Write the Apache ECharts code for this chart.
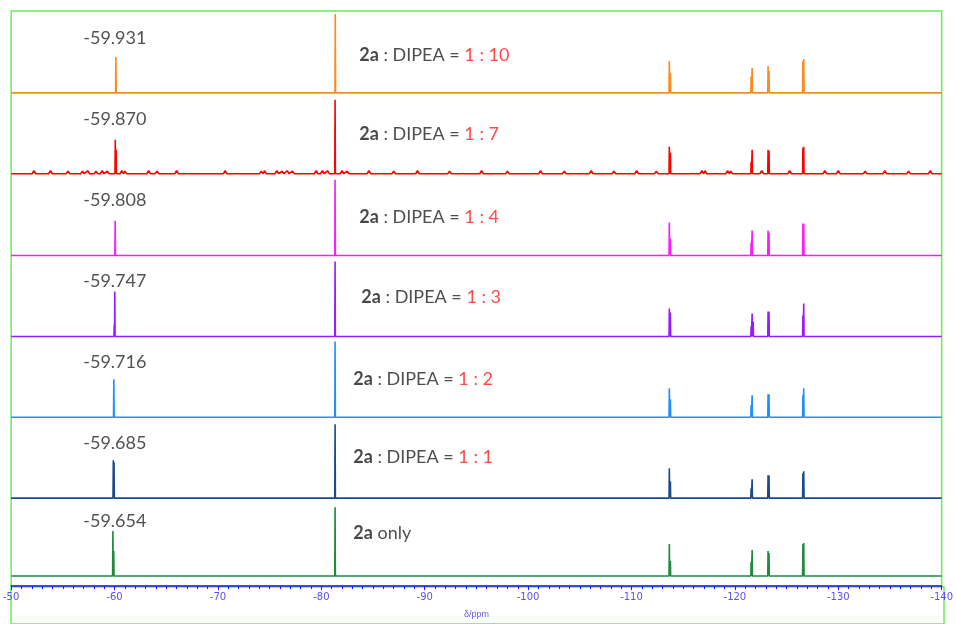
<!DOCTYPE html>
<html><head><meta charset="utf-8">
<script src="https://cdn.jsdelivr.net/npm/echarts@6/dist/echarts.min.js"></script>
<style>html,body{margin:0;padding:0;background:#fff}#c{width:956px;height:624px}</style>
</head><body><div id="c"></div><script>
// ---- data ----
const xMin = -140, xMax = -50, xStep = 10;
const shiftLabels = ['-59.931','-59.870','-59.808','-59.747','-59.716','-59.685','-59.654'];
const ratioLabels = ['1 : 10','1 : 7','1 : 4','1 : 3','1 : 2','1 : 1', null];
// peaks: [ppm, intensity]
const peaks_1_10 = [[-60.13,36],[-81.35,79],[-113.66,32],[-113.76,20],[-121.57,16],[-121.67,25],[-123.21,27],[-123.30,22],[-126.58,32],[-126.66,34]];
const peaks_1_7  = [[-60.07,34],[-60.15,24],[-81.33,74],[-113.66,27],[-113.76,21],[-121.57,12],[-121.67,24],[-123.21,24],[-123.30,23],[-126.58,26],[-126.66,27]];
const noise_1_7  = [[-52.2,3],[-53.8,3],[-55.5,2.5],[-56.9,2.5],[-57.4,3],[-58.2,2.5],[-58.8,3],[-59.3,2.5],[-60.7,3],[-61.0,2.5],[-63.3,3],[-64.1,2.5],[-66.0,3],[-70.7,3],[-74.2,2.5],[-74.5,3],[-75.7,3],[-76.2,2.5],[-76.7,3],[-77.2,2.5],[-79.5,3],[-80.1,3],[-80.6,3],[-82.0,3],[-82.5,2.5],[-84.6,3],[-87.0,2.5],[-89.3,3],[-92.4,2.5],[-95.5,3],[-98.0,2.5],[-101.2,3],[-103.5,2.5],[-106.1,3],[-108.3,2.5],[-110.5,3],[-112.4,2.5],[-116.8,3],[-117.1,3],[-119.3,3],[-119.6,2.5],[-122.6,3],[-125.3,3],[-128.7,3],[-130.0,3],[-132.6,2.5],[-134.5,3],[-136.8,2.5],[-138.9,3]];
const peaks_1_4  = [[-60.06,35],[-81.33,76],[-113.66,33],[-113.76,17],[-121.57,13],[-121.67,25],[-123.21,25],[-123.30,23],[-126.58,32],[-126.66,32]];
const peaks_1_3  = [[-59.97,12],[-60.02,45],[-81.33,75],[-113.66,28],[-113.76,24],[-121.57,10],[-121.67,23],[-121.77,15],[-123.21,25],[-123.30,25],[-126.58,21],[-126.66,33]];
const peaks_1_2  = [[-59.93,38],[-81.33,76],[-113.66,29],[-113.76,18],[-121.57,12],[-121.67,22],[-123.21,23],[-123.30,23],[-126.58,22],[-126.66,29]];
const peaks_1_1  = [[-59.88,38],[-59.95,36],[-81.33,74],[-113.66,30],[-113.76,17],[-121.57,10],[-121.67,19],[-123.21,23],[-123.30,23],[-126.58,25],[-126.66,27]];
const peaks_only = [[-59.84,45],[-59.92,25],[-81.33,69],[-113.66,32],[-113.76,15],[-121.57,14],[-121.67,26],[-123.21,25],[-123.30,23],[-126.58,32],[-126.66,33]];

// ---- layout / style ----
const baseOffsets = [494, 413, 331, 250, 169, 88, 10];
const colors = ['#ff8a1c','#ff0000','#ff19ff','#9a1aff','#1f8fff','#1b4a8c','#1f8a3e'];
const allPeaks = [peaks_1_10, peaks_1_7, peaks_1_4, peaks_1_3, peaks_1_2, peaks_1_1, peaks_only];
const allNoise = [[], noise_1_7, [], [], [], [], []];
const shiftLabelPos = [-60.03, 55];
const ratioLabelPos = [[-83.67, 38],[-83.67, 40],[-83.67, 38],[-83.87, 39],[-83.09, 38],[-83.09, 41],[-83.09, 43]];
const halfW = 0.03, noiseHalfW = 0.18;

function buildLine(peaks, noise, off) {
  const ps = peaks.map(p => [p[0], p[1], halfW]).concat(noise.map(p => [p[0], p[1], noiseHalfW]))
    .sort((a,b)=>b[0]-a[0]);
  const d = [[xMax, off]];
  ps.forEach(([p,h,w]) => { d.push([p+w, off]); d.push([p, off+h]); d.push([p-w, off]); });
  d.push([xMin, off]);
  return d;
}

const series = allPeaks.map((pk,i) => ({
  type:'line', data: buildLine(pk, allNoise[i], baseOffsets[i]), showSymbol:false, symbol:'none',
  lineStyle:{color:colors[i], width:1.6}, animation:false, z: 3
}));

const fontFam = 'Lato, "Open Sans", sans-serif';
const fs = 18;
const textData = [];
shiftLabels.forEach((s,i) => textData.push({value:[shiftLabelPos[0], baseOffsets[i]+shiftLabelPos[1]], label:{show:true, position:'inside', formatter:s, color:'#262626', fontSize:fs, fontFamily:fontFam}}));
ratioLabels.forEach((r,i) => textData.push({value:[ratioLabelPos[i][0], baseOffsets[i]+ratioLabelPos[i][1]],
  label:{show:true, position:'right', distance:0,
    formatter: r ? '{b|2a} : DIPEA = {r|' + r + '}' : '{b|2a} only',
    color:'#222', fontSize:fs, fontFamily:fontFam,
    rich:{b:{fontWeight:'bold', fontSize:fs, color:'#1a1a1a', fontFamily:fontFam}, r:{color:'#ff1a1a', fontSize:fs, fontFamily:fontFam}}}}));
series.push({type:'scatter', data:textData, symbolSize:0, silent:true, animation:false, z:5});

const frameColor = '#66ee55';
const chart = echarts.init(document.getElementById('c'), null, {renderer:'canvas'});
chart.setOption({
  backgroundColor:'#fff',
  animation:false,
  grid:[
    {left:11, right:12, top:11, bottom:37, show:true, borderColor:frameColor, borderWidth:1.5, backgroundColor:'transparent'},
    {left:11, right:12, top:587, bottom:-5, show:true, borderColor:frameColor, borderWidth:1.5, backgroundColor:'transparent'}
  ],
  xAxis:[{type:'value', gridIndex:0, min:xMin, max:xMax, interval:xStep, inverse:true,
    axisLine:{lineStyle:{color:'#1a1aff', width:1.5}},
    axisTick:{show:true, length:4, inside:false, lineStyle:{color:'#1a1aff'}},
    minorTick:{show:true, splitNumber:10, length:3, lineStyle:{color:'#1a1aff'}},
    splitLine:{show:false},
    axisLabel:{color:'#5b52e8', fontSize:10, margin:6, fontFamily:'"DejaVu Sans", sans-serif'},
    name:'δ/ppm', nameLocation:'middle', nameGap:24, nameTextStyle:{color:'#6a5ae8', fontSize:9}, z:10},
    {type:'value', gridIndex:1, min:0, max:1, show:false}],
  yAxis:[{type:'value', gridIndex:0, min:0, max:576, show:false, splitLine:{show:false}},
    {type:'value', gridIndex:1, min:0, max:1, show:false}],
  series
});
</script></body></html>
